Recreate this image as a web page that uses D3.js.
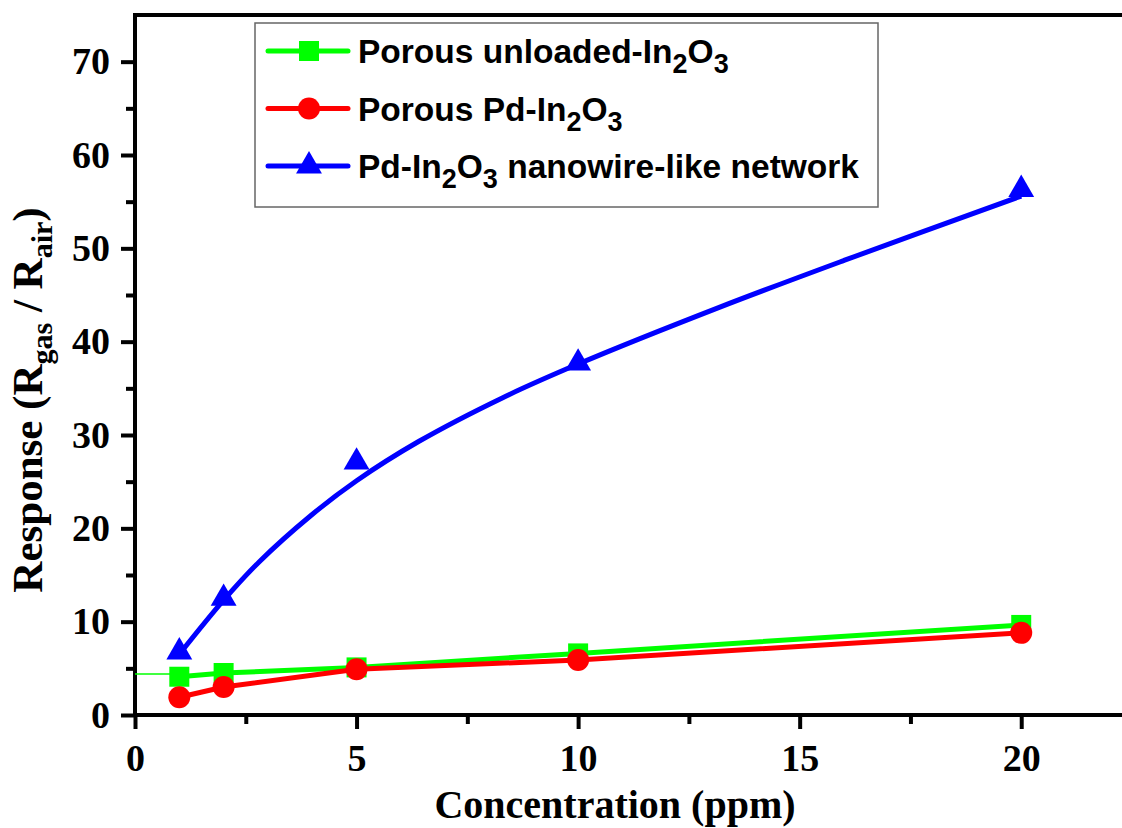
<!DOCTYPE html>
<html>
<head>
<meta charset="utf-8">
<script src="https://cdn.jsdelivr.net/npm/d3@7"></script>
<style>
  body { margin: 0; background: #fff; }
  svg { display: block; }
</style>
</head>
<body>
<div class="chart"></div>
<script>
// data
var concentration = [1, 2, 5, 10, 20];
var unloaded = [4.1, 4.5, 5.1, 6.6, 9.65];
var pdPorous = [1.9, 3.0, 4.9, 5.9, 8.8];
var nanowire = [6.75, 12.5, 27.1, 37.7, 56.3];

// fitted curve through the nanowire points
var fitX = [1, 2, 2.8, 3.95, 5, 6.4, 8.3, 10, 13.2, 16, 20];
var fitY = [6.5, 12.3, 16.4, 21.3, 25.1, 29.3, 34.0, 37.6, 43.7, 48.7, 55.6];

// thin green lead-in from the y axis
var leadX = [0, 1];
var leadY = [4.4, 4.4];

var xTicks = [0, 5, 10, 15, 20];
var xMinor = [2.5, 7.5, 12.5, 17.5, 22.5];
var yTicks = [0, 10, 20, 30, 40, 50, 60, 70];
var yMinor = [5, 15, 25, 35, 45, 55, 65];

var svgWidth = 1122;
var svgHeight = 828;

var margin = { top: 15, left: 135, bottom: 113 };
var plotRight = 1132;

var serif = "'Liberation Serif', 'Times New Roman', serif";
var sans = "'Liberation Sans', Arial, sans-serif";

var svg = d3.select(".chart")
  .append("svg")
  .attr("width", svgWidth)
  .attr("height", svgHeight);

var x = d3.scaleLinear()
  .domain([0, 22.5])
  .range([margin.left, plotRight]);

var y = d3.scaleLinear()
  .domain([0, 75])
  .range([svgHeight - margin.bottom, margin.top]);

// axes
var xAxis = d3.axisBottom(x).tickValues(xTicks).tickSize(14).tickSizeOuter(0).tickPadding(15);
var yAxis = d3.axisLeft(y).tickValues(yTicks).tickSize(14).tickSizeOuter(0).tickPadding(11);

var gx = svg.append("g")
  .attr("transform", `translate(0, ${y(0)})`)
  .call(xAxis);
gx.select(".domain").remove();

var gy = svg.append("g")
  .attr("transform", `translate(${x(0)}, 0)`)
  .call(yAxis);
gy.select(".domain").remove();

// minor ticks
svg.append("g")
  .attr("transform", `translate(0, ${y(0)})`)
  .call(d3.axisBottom(x).tickValues(xMinor).tickSize(9).tickFormat(""))
  .select(".domain").remove();
svg.append("g")
  .attr("transform", `translate(${x(0)}, 0)`)
  .call(d3.axisLeft(y).tickValues(yMinor).tickSize(9).tickFormat(""))
  .select(".domain").remove();

svg.selectAll(".tick line")
  .attr("stroke", "#000")
  .attr("stroke-width", 4);

svg.selectAll(".tick text")
  .attr("fill", "#000")
  .style("font-family", serif)
  .style("font-weight", "bold")
  .style("font-size", "38px");

// frame lines
svg.append("line")
  .attr("x1", x(0)).attr("x2", plotRight)
  .attr("y1", y(0)).attr("y2", y(0))
  .attr("stroke", "#000").attr("stroke-width", 4);
svg.append("line")
  .attr("x1", x(0)).attr("x2", x(0))
  .attr("y1", y(0) + 2).attr("y2", y(75) - 2)
  .attr("stroke", "#000").attr("stroke-width", 4);
svg.append("line")
  .attr("x1", x(0) - 2).attr("x2", plotRight)
  .attr("y1", y(75)).attr("y2", y(75))
  .attr("stroke", "#000").attr("stroke-width", 4);

// lines
var line = d3.line()
  .x(d => x(d[0]))
  .y(d => y(d[1]));

var smooth = d3.line()
  .x(d => x(d[0]))
  .y(d => y(d[1]))
  .curve(d3.curveCatmullRom.alpha(0.5));

svg.append("path")
  .datum(d3.zip(leadX, leadY))
  .attr("d", line)
  .attr("fill", "none")
  .attr("stroke", "#00ff00")
  .attr("stroke-width", 1.5);

svg.append("path")
  .datum(d3.zip(concentration, unloaded))
  .attr("d", line)
  .attr("fill", "none")
  .attr("stroke", "#00ff00")
  .attr("stroke-width", 5);

svg.selectAll(".sq")
  .data(d3.zip(concentration, unloaded))
  .enter()
  .append("path")
  .attr("class", "sq")
  .attr("transform", d => `translate(${x(d[0])}, ${y(d[1])})`)
  .attr("d", d3.symbol(d3.symbolSquare, 400))
  .attr("fill", "#00ff00");

svg.append("path")
  .datum(d3.zip(concentration, pdPorous))
  .attr("d", line)
  .attr("fill", "none")
  .attr("stroke", "#ff0000")
  .attr("stroke-width", 5);

svg.selectAll(".dot")
  .data(d3.zip(concentration, pdPorous))
  .enter()
  .append("circle")
  .attr("class", "dot")
  .attr("cx", d => x(d[0]))
  .attr("cy", d => y(d[1]))
  .attr("r", 11)
  .attr("fill", "#ff0000");

svg.append("path")
  .datum(d3.zip(fitX, fitY))
  .attr("d", smooth)
  .attr("fill", "none")
  .attr("stroke", "#0000ff")
  .attr("stroke-width", 5);

svg.selectAll(".tri")
  .data(d3.zip(concentration, nanowire))
  .enter()
  .append("path")
  .attr("class", "tri")
  .attr("transform", d => `translate(${x(d[0])}, ${y(d[1])})`)
  .attr("d", d3.symbol(d3.symbolTriangle, 290))
  .attr("fill", "#0000ff");

// text with subscripts
function richText(sel, parts, subSize, shift) {
  var down = false;
  parts.forEach(function(p) {
    var isSub = typeof p !== "string";
    var t = sel.append("tspan").text(isSub ? p.sub : p);
    if (isSub && !down) { t.attr("dy", shift); down = true; }
    else if (!isSub && down) { t.attr("dy", -shift); down = false; }
    if (isSub) t.style("font-size", subSize + "px");
  });
}

// axis titles
svg.append("text")
  .attr("x", 615)
  .attr("y", 818)
  .attr("text-anchor", "middle")
  .style("font-family", serif)
  .style("font-weight", "bold")
  .style("font-size", "40px")
  .text("Concentration (ppm)");

var yTitle = svg.append("text")
  .attr("transform", "translate(42, 400) rotate(-90)")
  .attr("text-anchor", "middle")
  .style("font-family", serif)
  .style("font-weight", "bold")
  .style("font-size", "43px");
richText(yTitle, ["Response (R", { sub: "gas" }, " / R", { sub: "air" }, ")"], 30, 10);

// legend
var legendNames = [
  ["Porous unloaded-In", { sub: "2" }, "O", { sub: "3" }],
  ["Porous Pd-In", { sub: "2" }, "O", { sub: "3" }],
  ["Pd-In", { sub: "2" }, "O", { sub: "3" }, " nanowire-like network"]
];
var legendColors = ["#00ff00", "#ff0000", "#0000ff"];
var legendSymbols = [d3.symbolSquare, d3.symbolCircle, d3.symbolTriangle];
var legendSizes = [400, 380, 290];

svg.append("rect")
  .attr("x", 255).attr("y", 23)
  .attr("width", 623).attr("height", 184)
  .attr("fill", "#fff")
  .attr("stroke", "#666")
  .attr("stroke-width", 1.5);

legendNames.forEach(function(name, i) {
  var ly = 51 + i * 57.5;
  var g = svg.append("g");
  g.append("line")
    .attr("x1", 268).attr("x2", 348)
    .attr("y1", ly).attr("y2", ly)
    .attr("stroke", legendColors[i])
    .attr("stroke-width", 5)
    .attr("stroke-linecap", "round");
  g.append("path")
    .attr("transform", `translate(309, ${ly})`)
    .attr("d", d3.symbol(legendSymbols[i], legendSizes[i]))
    .attr("fill", legendColors[i]);
  var t = g.append("text")
    .attr("x", 358)
    .attr("y", ly + 12)
    .style("font-family", sans)
    .style("font-weight", "bold")
    .style("font-size", "33.5px")
    .attr("fill", "#000");
  richText(t, name, 27, 10);
});
</script>
</body>
</html>
